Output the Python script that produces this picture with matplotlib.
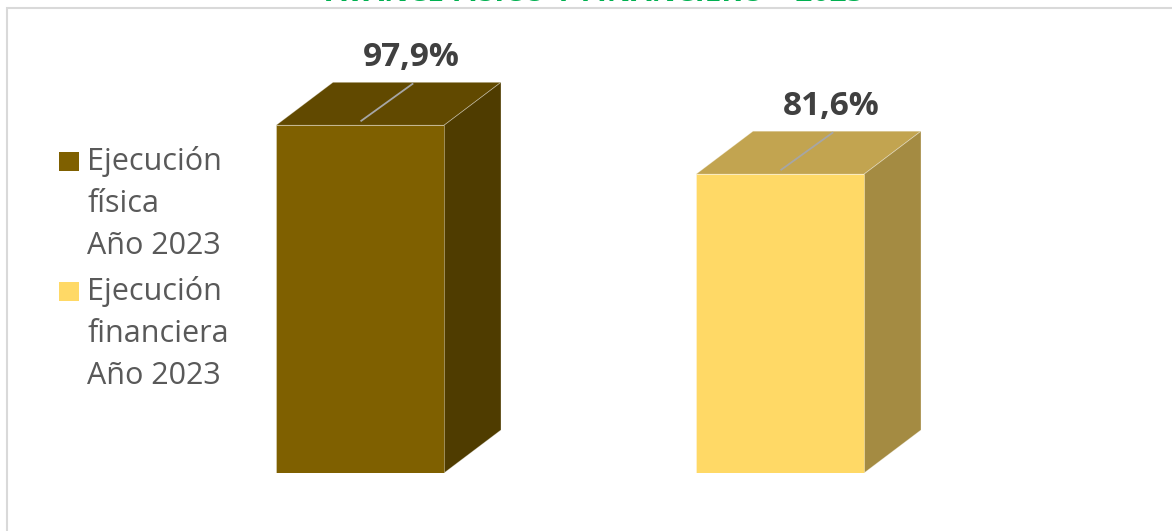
import matplotlib.pyplot as plt
from matplotlib.patches import Polygon, Rectangle

# data
series = ['Ejecución\nfísica\nAño 2023', 'Ejecución\nfinanciera\nAño 2023']
values = [97.9, 81.6]
value_labels = ['97,9%', '81,6%']
front_colors = ['#7F6000', '#FFD966']
top_colors = ['#614900', '#C2A450']
side_colors = ['#4F3C00', '#A48B42']
title = 'AVANCE FÍSICO Y FINANCIERO – 2023'

plt.rcParams['font.family'] = ['Open Sans', 'DejaVu Sans']

fig = plt.figure(figsize=(11.72, 5.31), dpi=100)
W, H = 1172, 531

# chart frame (only top and left edges fall inside the picture)
fig.patches.append(Rectangle((7 / W, -0.1), 1.2, 1.1 - 8 / H, transform=fig.transFigure,
                             fill=False, edgecolor='#D9D9D9', lw=1.5))

# title, mostly cut off by the top of the image
fig.text(595 / W, 1 - 1 / H, title, color='#00B050', fontsize=21.5, fontweight='bold',
         ha='center', va='baseline')

ax = fig.add_axes([150 / W, 58 / H, 840 / W, 433 / H])
floor = -18
ax.set_xlim(-0.5, 1.5)
ax.set_ylim(floor, floor + 433 / 3.0)
ax.axis('off')

width = 0.4
dx = 57 / 420
dy = 43 / 3.0
edge = (1, 1, 1, 0.35)

for i, v in enumerate(values):
    left, right = i - width / 2, i + width / 2
    ax.bar(i, v - floor, bottom=floor, width=width, color=front_colors[i],
           edgecolor=edge, lw=0.6, zorder=3)
    ax.add_patch(Polygon([(left, v), (right, v), (right + dx, v + dy), (left + dx, v + dy)],
                         closed=True, facecolor=top_colors[i], edgecolor=edge, lw=0.6, zorder=2))
    ax.add_patch(Polygon([(right, floor), (right + dx, floor + dy), (right + dx, v + dy), (right, v)],
                         closed=True, facecolor=side_colors[i], edgecolor=edge, lw=0.6, zorder=2))
    # label with leader line
    ax.plot([i + 0.125, i + 0.003], [v + 13.8, v + 1.5], color='#A6A6A6', lw=1.3, zorder=5)
    ax.text(i + 0.123, v + 22.7, value_labels[i], ha='center', va='center', fontsize=24,
            fontweight='bold', color='#404040', zorder=5)

# legend drawn by hand to keep the wrapped labels
legend_y = [150, 280]
for i, lab in enumerate(series):
    y0 = legend_y[i]
    fig.patches.append(Rectangle((59 / W, 1 - (y0 + 21) / H), 20 / W, 19 / H,
                                 transform=fig.transFigure, facecolor=front_colors[i],
                                 edgecolor='none'))
    fig.text(87 / W, 1 - (y0 - 4) / H, lab, fontsize=22, color='#595959',
             ha='left', va='top', linespacing=1.52)

fig.savefig('out.png', dpi=100)
